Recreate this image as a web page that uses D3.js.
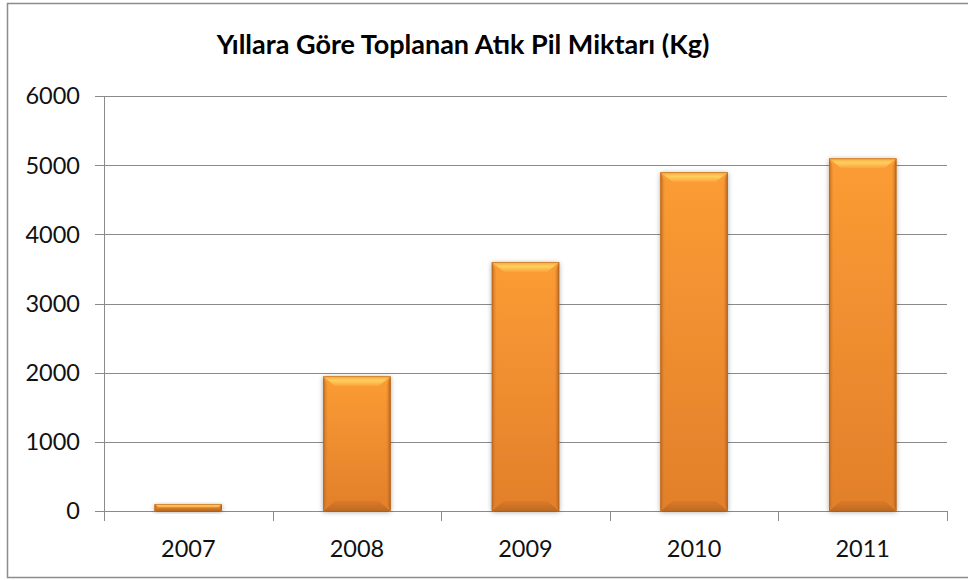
<!DOCTYPE html>
<html><head><meta charset="utf-8">
<script src="https://cdn.jsdelivr.net/npm/d3@7"></script>
<style>
html,body{margin:0;padding:0;background:#fff;}
svg{display:block;font-family:Lato,"Open Sans",sans-serif;}
</style></head>
<body>
<svg id="chart" width="968" height="580"></svg>
<script>
const title = "Yıllara Göre Toplanan Atık Pil Miktarı (Kg)";
const years = ["2007","2008","2009","2010","2011"];
const values = [100, 1950, 3600, 4900, 5100];
const yTicks = [0,1000,2000,3000,4000,5000,6000];

const svg = d3.select("#chart");
const m = {left:104, right:947, top:96, bottom:511};

const defs = svg.append("defs");
const body = defs.append("linearGradient").attr("id","body").attr("x1",0).attr("y1",0).attr("x2",0).attr("y2",1);
body.append("stop").attr("offset","0%").attr("stop-color","#fb9c34");
body.append("stop").attr("offset","100%").attr("stop-color","#e27f2b");
const topG = defs.append("linearGradient").attr("id","topb").attr("x1",0).attr("y1",0).attr("x2",0).attr("y2",1);
topG.append("stop").attr("offset","0%").attr("stop-color","#f7a640");
topG.append("stop").attr("offset","45%").attr("stop-color","#ffcf5e");
topG.append("stop").attr("offset","100%").attr("stop-color","#fba23a");
const sideL = defs.append("linearGradient").attr("id","sideL").attr("x1",0).attr("y1",0).attr("x2",1).attr("y2",0);
sideL.append("stop").attr("offset","0%").attr("stop-color","#b9651f");
sideL.append("stop").attr("offset","100%").attr("stop-color","#e8892d").attr("stop-opacity",0);
const sideR = defs.append("linearGradient").attr("id","sideR").attr("x1",1).attr("y1",0).attr("x2",0).attr("y2",0);
sideR.append("stop").attr("offset","0%").attr("stop-color","#a95a1b");
sideR.append("stop").attr("offset","100%").attr("stop-color","#e8892d").attr("stop-opacity",0);
const botG = defs.append("linearGradient").attr("id","botb").attr("x1",0).attr("y1",0).attr("x2",0).attr("y2",1);
botG.append("stop").attr("offset","0%").attr("stop-color","#d97a28");
botG.append("stop").attr("offset","100%").attr("stop-color","#b8661f");
const f = defs.append("filter").attr("id","shadow").attr("x","-30%").attr("y","-30%").attr("width","160%").attr("height","160%");
f.append("feDropShadow").attr("dx",0).attr("dy",1).attr("stdDeviation",2.5).attr("flood-color","#000").attr("flood-opacity",0.35);

// frame
svg.append("rect").attr("x",7.5).attr("y",3.5).attr("width",980).attr("height",574)
  .attr("fill","#fff").attr("stroke","#8c8c8c").attr("stroke-width",1.5);

const x = d3.scaleBand().domain(years).range([m.left, m.right]).paddingInner(0.6).paddingOuter(0.3);
const y = d3.scaleLinear().domain([0,6000]).range([m.bottom, m.top]);

// gridlines
svg.append("g").selectAll("line").data(yTicks).join("line")
  .attr("x1",95).attr("x2",m.right)
  .attr("y1",d=>Math.round(y(d))+0.5).attr("y2",d=>Math.round(y(d))+0.5)
  .attr("stroke","#8a8a8a").attr("stroke-width",1);

// y axis line
svg.append("line").attr("x1",m.left+0.5).attr("x2",m.left+0.5).attr("y1",m.top).attr("y2",m.bottom+10)
  .attr("stroke","#8a8a8a");
// category ticks
const step = (m.right-m.left)/years.length;
svg.append("g").selectAll("line").data(d3.range(years.length+1)).join("line")
  .attr("x1",i=>Math.round(m.left+i*step)+0.5).attr("x2",i=>Math.round(m.left+i*step)+0.5)
  .attr("y1",m.bottom).attr("y2",m.bottom+10).attr("stroke","#8a8a8a");

// y labels
svg.append("g").selectAll("text").data(yTicks).join("text")
  .attr("x",80).attr("y",d=>y(d)).attr("dy","0.36em").attr("text-anchor","end")
  .attr("font-size",23.5).attr("fill","#111").text(d=>d);
// x labels
svg.append("g").selectAll("text").data(years).join("text")
  .attr("x",d=>x(d)+x.bandwidth()/2).attr("y",557).attr("text-anchor","middle")
  .attr("font-size",23.5).attr("fill","#111").text(d=>d);

// title
svg.append("text").attr("x",463).attr("y",54).attr("text-anchor","middle")
  .attr("font-size",27).attr("font-weight","bold").attr("fill","#000").text(title);

// bars
const bars = svg.append("g").selectAll("g").data(years.map((k,i)=>({k,v:values[i]}))).join("g");
bars.each(function(d){
  const g = d3.select(this);
  const x0 = x(d.k), w = x.bandwidth(), y0 = y(d.v), h = y(0)-y(d.v);
  const b = Math.min(10, h/2), s = 5;
  g.append("rect").attr("x",x0).attr("y",y0).attr("width",w).attr("height",h)
    .attr("fill","url(#body)").attr("filter","url(#shadow)");
  g.append("polygon").attr("points",[[x0,y0],[x0+s,y0+b],[x0+s,y0+h-b],[x0,y0+h]].join(" ")).attr("fill","url(#sideL)");
  g.append("polygon").attr("points",[[x0+w,y0],[x0+w-s,y0+b],[x0+w-s,y0+h-b],[x0+w,y0+h]].join(" ")).attr("fill","url(#sideR)");
  g.append("polygon").attr("points",[[x0,y0],[x0+w,y0],[x0+w-b*1.2,y0+b],[x0+b*1.2,y0+b]].join(" ")).attr("fill","url(#topb)");
  g.append("polygon").attr("points",[[x0,y0+h],[x0+w,y0+h],[x0+w-b*1.2,y0+h-b],[x0+b*1.2,y0+h-b]].join(" ")).attr("fill","url(#botb)").attr("opacity",0.85);
  g.append("rect").attr("x",x0+0.5).attr("y",y0+0.5).attr("width",w-1).attr("height",Math.max(0,h-1))
    .attr("fill","none").attr("stroke","#b86a24").attr("stroke-width",1).attr("opacity",0.6);
});
</script>
</body></html>
